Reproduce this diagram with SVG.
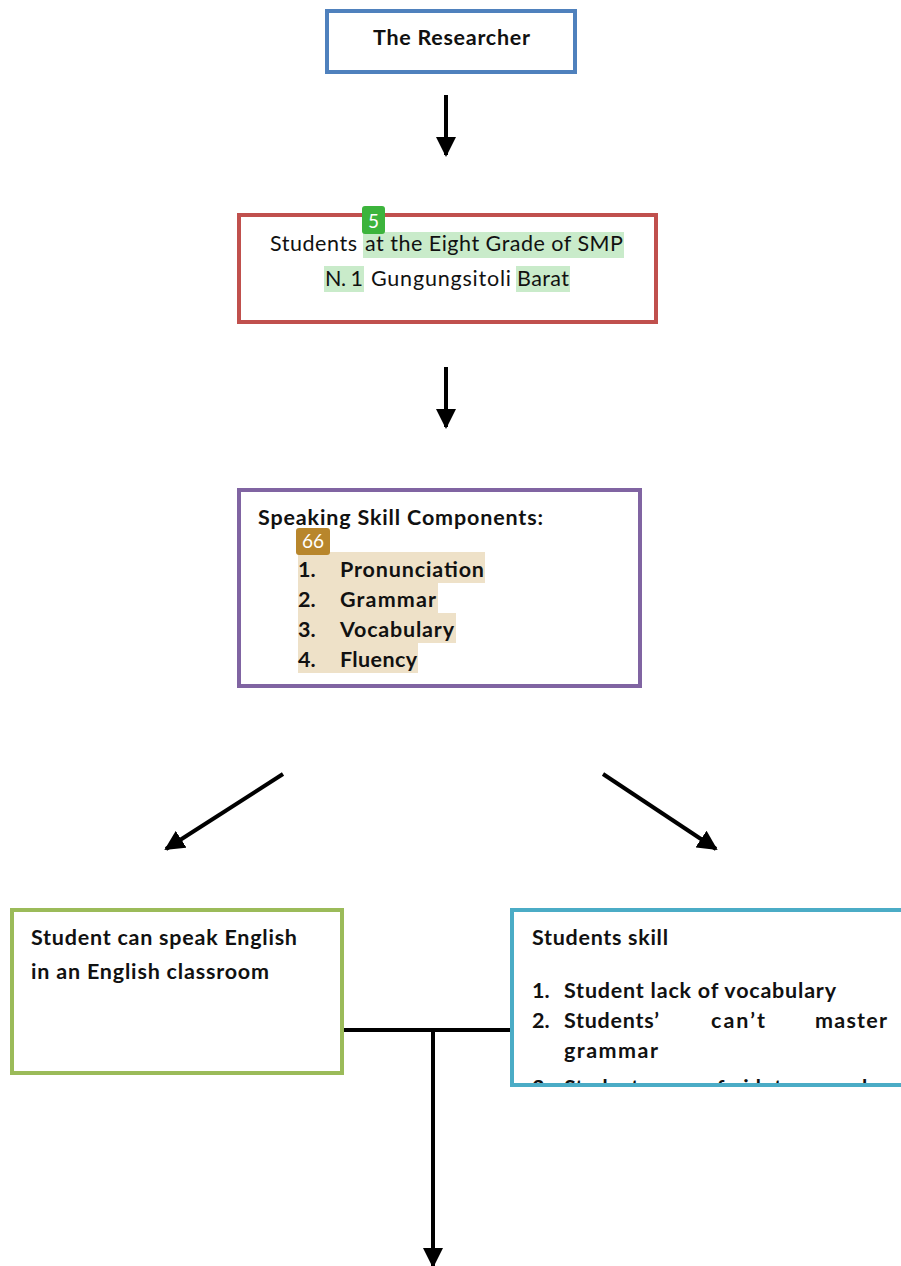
<svg xmlns="http://www.w3.org/2000/svg" width="901" height="1266" viewBox="0 0 901 1266">
<defs>
<style>
text{font-family:Lato,"Open Sans","Liberation Sans",sans-serif;fill:#111}
.b{font-weight:bold}
.n{font-size:21.5px}
.box{fill:#fff;stroke-width:4}
.con{stroke:#000;stroke-width:4;fill:none}
.hg{fill:#c9ebca}
.hb{fill:#eee1c8}
</style>
<marker id="ah" viewBox="0 0 10 10" refX="9" refY="5" markerWidth="5" markerHeight="5" orient="auto" markerUnits="strokeWidth"><path d="M0,0 L10,5 L0,10 z" fill="#000"/></marker>
<clipPath id="c5"><rect x="514" y="912" width="390" height="171"/></clipPath>
</defs>
<rect width="901" height="1266" fill="#fff"/>
<g id="connectors">
<line class="con" x1="446" y1="95" x2="446" y2="155" marker-end="url(#ah)"/>
<line class="con" x1="446" y1="367" x2="446" y2="427" marker-end="url(#ah)"/>
<line class="con" x1="283" y1="774" x2="166" y2="849" marker-end="url(#ah)"/>
<line class="con" x1="603" y1="774" x2="716" y2="849" marker-end="url(#ah)"/>
<line class="con" x1="342" y1="1030" x2="512" y2="1030"/>
<line class="con" x1="433" y1="1030" x2="433" y2="1266" marker-end="url(#ah)"/>
</g>
<g id="researcher">
<rect class="box" x="327" y="11" width="248" height="61" stroke="#4f81bd"/>
<text class="b n" x="373" y="45" textLength="157">The Researcher</text>
</g>
<g id="students">
<rect class="box" x="239" y="215" width="417" height="107" stroke="#c0504d"/>
<rect class="hg" x="363" y="232" width="261" height="26"/>
<rect class="hg" x="324" y="266" width="40" height="26"/>
<rect class="hg" x="516" y="266" width="54" height="26"/>
<text class="n" x="270" y="251" textLength="87">Students</text>
<text class="n" x="365" y="251" textLength="258">at the Eight Grade of SMP</text>
<text class="n" x="325" y="286" textLength="38">N. 1</text>
<text class="n" x="371" y="286" textLength="140">Gungungsitoli</text>
<text class="n" x="517" y="286" textLength="52">Barat</text>
<rect x="362" y="206" width="23" height="28" rx="3" fill="#3cb43c"/>
<text x="373.5" y="228" text-anchor="middle" style="font-size:19px;fill:#fff">5</text>
</g>
<g id="components">
<rect class="box" x="239" y="490" width="401" height="196" stroke="#8064a2"/>
<text class="b n" x="258" y="525" textLength="285">Speaking Skill Components:</text>
<rect class="hb" x="298" y="552" width="187" height="31"/>
<rect class="hb" x="298" y="583" width="140" height="30"/>
<rect class="hb" x="298" y="613" width="158" height="30"/>
<rect class="hb" x="298" y="643" width="120" height="30"/>
<g class="b n">
<text x="298" y="577">1.</text><text x="340" y="577" textLength="144">Pronunciation</text>
<text x="298" y="607">2.</text><text x="340" y="607" textLength="96">Grammar</text>
<text x="298" y="637">3.</text><text x="340" y="637" textLength="114">Vocabulary</text>
<text x="298" y="667">4.</text><text x="340" y="667" textLength="77">Fluency</text>
</g>
<rect x="296" y="528" width="34" height="27" rx="3" fill="#b8862c"/>
<text x="313" y="548" text-anchor="middle" style="font-size:19px;fill:#fff">66</text>
</g>
<g id="can-speak">
<rect class="box" x="12" y="910" width="330" height="163" stroke="#9bbb59"/>
<text class="b n" x="31" y="945" textLength="266">Student can speak English</text>
<text class="b n" x="31" y="979" textLength="238">in an English classroom</text>
</g>
<g id="students-skill">
<rect class="box" x="512" y="910" width="400" height="175" stroke="#4bacc6"/>
<g clip-path="url(#c5)" class="b n">
<text x="532" y="945" textLength="136">Students skill</text>
<text x="532" y="998">1.</text><text x="564" y="998" textLength="272">Student lack of vocabulary</text>
<text x="532" y="1028">2.</text><text x="564" y="1028" textLength="95">Students’</text><text x="711" y="1028" textLength="54">can’t</text><text x="815" y="1028" textLength="72">master</text>
<text x="564" y="1058" textLength="94">grammar</text>
<text x="532" y="1095">3.</text><text x="564" y="1095">Students</text><text x="664" y="1095">are</text><text x="706" y="1095">afraid</text><text x="774" y="1095">to</text><text x="818" y="1095">speak</text>
</g>
</g>
</svg>
